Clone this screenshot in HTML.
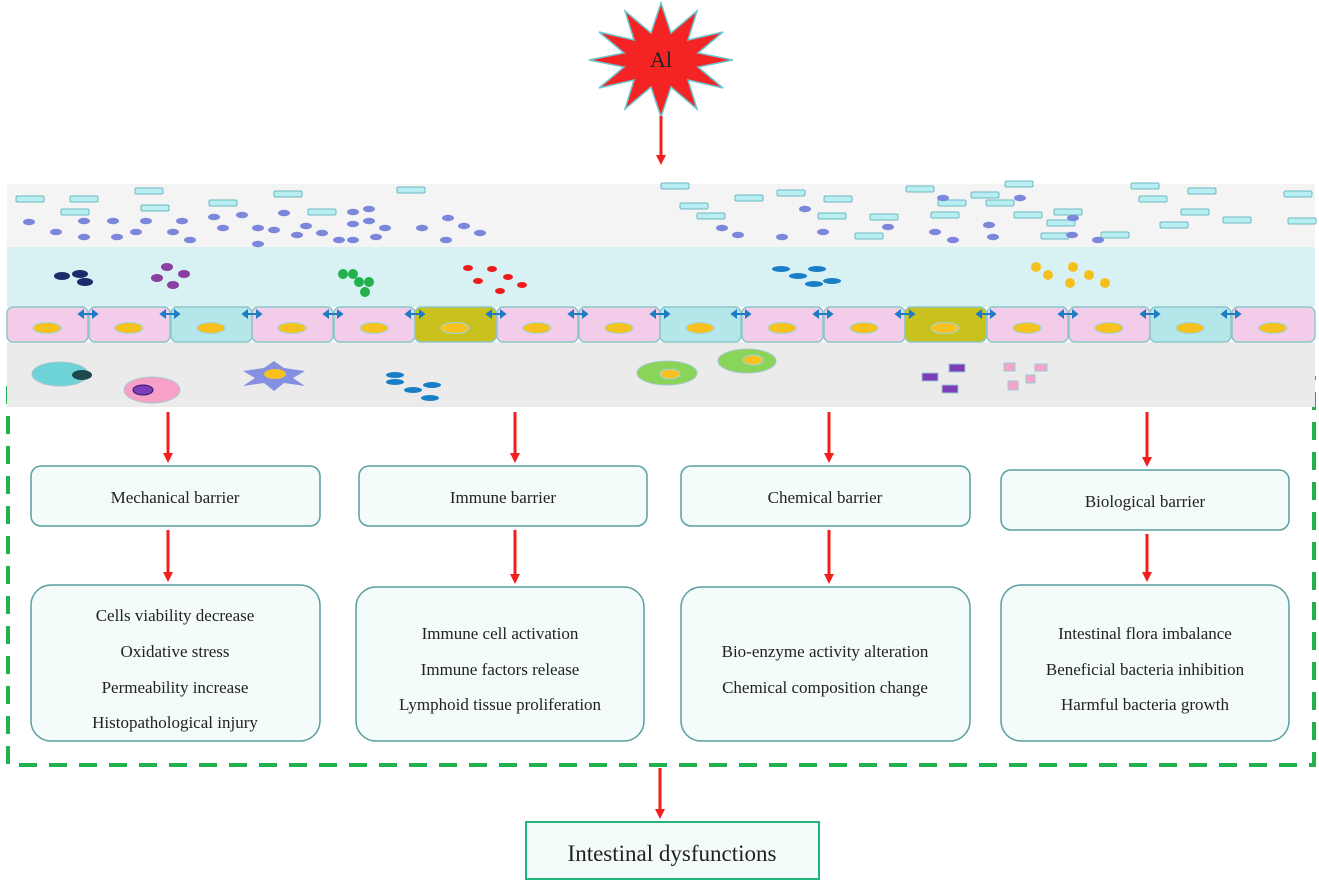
<!DOCTYPE html>
<html><head><meta charset="utf-8"><style>body{margin:0;background:#fff}svg{display:block}text{font-family:"Liberation Serif",serif;fill:#222}</style></head><body>
<svg width="1319" height="886" viewBox="0 0 1319 886" xmlns="http://www.w3.org/2000/svg">
<defs>
<marker id="ah" markerWidth="10" markerHeight="10" refX="5" refY="5" orient="auto" markerUnits="userSpaceOnUse"><path d="M0,0 L10,5 L0,10 z" fill="#f21f1f"/></marker>
<g id="r"><rect x="-14" y="-3" width="28" height="6" rx="1.5" fill="#b8eef2" stroke="#6bb9c0" stroke-width="1"/></g>
<g id="e"><ellipse rx="6" ry="3.2" fill="#7c87dc"/></g>
<g id="n"><ellipse rx="14" ry="5.5" fill="#f7c21f" stroke="#9bd7e8" stroke-width="1"/></g>
<g id="j"><path d="M-9,0 H9 M-9,0 l4,-3 v6 z M9,0 l-4,-3 v6 z" stroke="#1e7cc4" stroke-width="2" fill="#1e7cc4"/></g>
</defs>
<rect x="8" y="378" width="1306" height="387" fill="none" stroke="#22b14c" stroke-width="4" stroke-dasharray="18,12"/>
<rect x="7" y="184" width="1308" height="63" fill="#f4f4f4"/>
<rect x="7" y="247" width="1308" height="60" fill="#d8f2f4"/>
<rect x="7" y="342" width="1308" height="65" fill="#ebebeb"/>
<g>
<use href="#r" x="30" y="199"/><use href="#r" x="84" y="199"/><use href="#r" x="149" y="191"/><use href="#r" x="75" y="212"/><use href="#r" x="155" y="208"/><use href="#r" x="223" y="203"/><use href="#r" x="288" y="194"/><use href="#r" x="322" y="212"/><use href="#r" x="411" y="190"/>
<use href="#r" x="675" y="186"/><use href="#r" x="711" y="216"/><use href="#r" x="694" y="206"/><use href="#r" x="749" y="198"/><use href="#r" x="791" y="193"/><use href="#r" x="838" y="199"/><use href="#r" x="832" y="216"/><use href="#r" x="884" y="217"/><use href="#r" x="869" y="236"/><use href="#r" x="920" y="189"/><use href="#r" x="945" y="215"/><use href="#r" x="1019" y="184"/><use href="#r" x="985" y="195"/><use href="#r" x="1000" y="203"/><use href="#r" x="952" y="203"/><use href="#r" x="1028" y="215"/><use href="#r" x="1055" y="236"/><use href="#r" x="1061" y="223"/><use href="#r" x="1145" y="186"/><use href="#r" x="1153" y="199"/><use href="#r" x="1068" y="212"/><use href="#r" x="1195" y="212"/><use href="#r" x="1115" y="235"/><use href="#r" x="1202" y="191"/><use href="#r" x="1237" y="220"/><use href="#r" x="1298" y="194"/><use href="#r" x="1302" y="221"/><use href="#r" x="1174" y="225"/>
<use href="#e" x="29" y="222"/><use href="#e" x="56" y="232"/><use href="#e" x="84" y="221"/><use href="#e" x="84" y="237"/><use href="#e" x="113" y="221"/><use href="#e" x="117" y="237"/><use href="#e" x="136" y="232"/><use href="#e" x="146" y="221"/><use href="#e" x="173" y="232"/><use href="#e" x="182" y="221"/><use href="#e" x="190" y="240"/><use href="#e" x="214" y="217"/><use href="#e" x="223" y="228"/><use href="#e" x="242" y="215"/><use href="#e" x="258" y="228"/><use href="#e" x="258" y="244"/><use href="#e" x="274" y="230"/><use href="#e" x="284" y="213"/><use href="#e" x="297" y="235"/><use href="#e" x="306" y="226"/><use href="#e" x="322" y="233"/><use href="#e" x="339" y="240"/><use href="#e" x="353" y="212"/><use href="#e" x="353" y="224"/><use href="#e" x="353" y="240"/><use href="#e" x="369" y="209"/><use href="#e" x="369" y="221"/><use href="#e" x="376" y="237"/><use href="#e" x="385" y="228"/><use href="#e" x="422" y="228"/><use href="#e" x="448" y="218"/><use href="#e" x="464" y="226"/><use href="#e" x="446" y="240"/><use href="#e" x="480" y="233"/>
<use href="#e" x="722" y="228"/><use href="#e" x="738" y="235"/><use href="#e" x="805" y="209"/><use href="#e" x="782" y="237"/><use href="#e" x="823" y="232"/><use href="#e" x="888" y="227"/><use href="#e" x="935" y="232"/><use href="#e" x="953" y="240"/><use href="#e" x="943" y="198"/><use href="#e" x="989" y="225"/><use href="#e" x="993" y="237"/><use href="#e" x="1072" y="235"/><use href="#e" x="1073" y="218"/><use href="#e" x="1098" y="240"/><use href="#e" x="1020" y="198"/>
</g>
<g fill="#1d2a6b"><ellipse cx="62" cy="276" rx="8" ry="4"/><ellipse cx="80" cy="274" rx="8" ry="4"/><ellipse cx="85" cy="282" rx="8" ry="4"/></g>
<g fill="#8b3fa0"><ellipse cx="167" cy="267" rx="6" ry="4"/><ellipse cx="157" cy="278" rx="6" ry="4"/><ellipse cx="184" cy="274" rx="6" ry="4"/><ellipse cx="173" cy="285" rx="6" ry="4"/></g>
<g fill="#22b14c"><circle cx="343" cy="274" r="5"/><circle cx="353" cy="274" r="5"/><circle cx="359" cy="282" r="5"/><circle cx="369" cy="282" r="5"/><circle cx="365" cy="292" r="5"/></g>
<g fill="#f01a1a"><ellipse cx="468" cy="268" rx="5" ry="3"/><ellipse cx="492" cy="269" rx="5" ry="3"/><ellipse cx="508" cy="277" rx="5" ry="3"/><ellipse cx="478" cy="281" rx="5" ry="3"/><ellipse cx="500" cy="291" rx="5" ry="3"/><ellipse cx="522" cy="285" rx="5" ry="3"/></g>
<g fill="#1a7ec7"><ellipse cx="781" cy="269" rx="9" ry="3"/><ellipse cx="798" cy="276" rx="9" ry="3"/><ellipse cx="817" cy="269" rx="9" ry="3"/><ellipse cx="814" cy="284" rx="9" ry="3"/><ellipse cx="832" cy="281" rx="9" ry="3"/></g>
<g fill="#f5c01e"><circle cx="1036" cy="267" r="5"/><circle cx="1048" cy="275" r="5"/><circle cx="1073" cy="267" r="5"/><circle cx="1089" cy="275" r="5"/><circle cx="1070" cy="283" r="5"/><circle cx="1105" cy="283" r="5"/></g>
<g stroke="#8cc7c7" stroke-width="1.5">
<rect x="7" y="307" width="81" height="35" rx="6" fill="#f2cce8"/>
<rect x="89" y="307" width="81" height="35" rx="6" fill="#f2cce8"/>
<rect x="171" y="307" width="81" height="35" rx="6" fill="#b4e6ea"/>
<rect x="252" y="307" width="81" height="35" rx="6" fill="#f2cce8"/>
<rect x="334" y="307" width="81" height="35" rx="6" fill="#f2cce8"/>
<rect x="415" y="307" width="81" height="35" rx="6" fill="#c9c21e"/>
<rect x="497" y="307" width="81" height="35" rx="6" fill="#f2cce8"/>
<rect x="579" y="307" width="81" height="35" rx="6" fill="#f2cce8"/>
<rect x="660" y="307" width="81" height="35" rx="6" fill="#b4e6ea"/>
<rect x="742" y="307" width="81" height="35" rx="6" fill="#f2cce8"/>
<rect x="824" y="307" width="81" height="35" rx="6" fill="#f2cce8"/>
<rect x="905" y="307" width="81" height="35" rx="6" fill="#c9c21e"/>
<rect x="987" y="307" width="81" height="35" rx="6" fill="#f2cce8"/>
<rect x="1069" y="307" width="81" height="35" rx="6" fill="#f2cce8"/>
<rect x="1150" y="307" width="81" height="35" rx="6" fill="#b4e6ea"/>
<rect x="1232" y="307" width="83" height="35" rx="6" fill="#f2cce8"/>
</g>
<g>
<use href="#n" x="47" y="328"/><use href="#n" x="129" y="328"/><use href="#n" x="211" y="328"/><use href="#n" x="292" y="328"/><use href="#n" x="374" y="328"/><use href="#n" x="455" y="328"/><use href="#n" x="537" y="328"/><use href="#n" x="619" y="328"/><use href="#n" x="700" y="328"/><use href="#n" x="782" y="328"/><use href="#n" x="864" y="328"/><use href="#n" x="945" y="328"/><use href="#n" x="1027" y="328"/><use href="#n" x="1109" y="328"/><use href="#n" x="1190" y="328"/><use href="#n" x="1273" y="328"/>
<use href="#j" x="88" y="314"/><use href="#j" x="170" y="314"/><use href="#j" x="252" y="314"/><use href="#j" x="333" y="314"/><use href="#j" x="415" y="314"/><use href="#j" x="496" y="314"/><use href="#j" x="578" y="314"/><use href="#j" x="660" y="314"/><use href="#j" x="741" y="314"/><use href="#j" x="823" y="314"/><use href="#j" x="905" y="314"/><use href="#j" x="986" y="314"/><use href="#j" x="1068" y="314"/><use href="#j" x="1150" y="314"/><use href="#j" x="1231" y="314"/>
</g>
<ellipse cx="60" cy="374" rx="28" ry="12" fill="#6dd3d8" stroke="#a8c8cc"/><ellipse cx="82" cy="375" rx="10" ry="5" fill="#1d4a4a"/>
<ellipse cx="152" cy="390" rx="28" ry="13" fill="#f9a0c9" stroke="#a8c8cc"/><ellipse cx="143" cy="390" rx="10" ry="5" fill="#7d3cb8" stroke="#2a1a6a"/>
<polygon points="274,361 284,368 305,371 293,378 305,386 284,383 274,391 264,383 243,386 255,378 243,371 264,368" fill="#8591e0"/><ellipse cx="275" cy="374" rx="11" ry="5" fill="#f7c21f"/>
<g fill="#1a7ec7"><ellipse cx="395" cy="375" rx="9" ry="3"/><ellipse cx="395" cy="382" rx="9" ry="3"/><ellipse cx="413" cy="390" rx="9" ry="3"/><ellipse cx="432" cy="385" rx="9" ry="3"/><ellipse cx="430" cy="398" rx="9" ry="3"/></g>
<ellipse cx="667" cy="373" rx="30" ry="12" fill="#8ad45a" stroke="#a8c8cc"/><ellipse cx="670" cy="374" rx="10" ry="5" fill="#f7c21f" stroke="#9bd7e8"/>
<ellipse cx="747" cy="361" rx="29" ry="12" fill="#8ad45a" stroke="#a8c8cc"/><ellipse cx="753" cy="360" rx="10" ry="5" fill="#f7c21f" stroke="#9bd7e8"/>
<g fill="#7d3cb8" stroke="#9bcbd0"><rect x="949" y="364" width="16" height="8"/><rect x="922" y="373" width="16" height="8"/><rect x="942" y="385" width="16" height="8"/></g>
<g fill="#f7a3cc" stroke="#9bcbd0"><rect x="1004" y="363" width="11" height="8"/><rect x="1035" y="364" width="12" height="7"/><rect x="1026" y="375" width="9" height="8"/><rect x="1008" y="381" width="10" height="9"/></g>
<polygon points="661,3 671,33 697,11 688,40 723,32 698,53 733,60 698,67 723,88 688,80 697,109 671,87 661,117 651,87 625,109 634,80 599,88 624,67 589,60 624,53 599,32 634,40 625,11 651,33" fill="#f52424" stroke="#6cc6d0" stroke-width="1.5"/>
<text x="661" y="67" font-size="22" text-anchor="middle">Al</text>
<g stroke="#f21f1f" stroke-width="3" marker-end="url(#ah)">
<line x1="661" y1="116" x2="661" y2="160"/>
<line x1="168" y1="412" x2="168" y2="458"/><line x1="515" y1="412" x2="515" y2="458"/><line x1="829" y1="412" x2="829" y2="458"/><line x1="1147" y1="412" x2="1147" y2="462"/>
<line x1="168" y1="530" x2="168" y2="577"/><line x1="515" y1="530" x2="515" y2="579"/><line x1="829" y1="530" x2="829" y2="579"/><line x1="1147" y1="534" x2="1147" y2="577"/>
<line x1="660" y1="768" x2="660" y2="814"/>
</g>
<g fill="#f3fbfb" stroke="#5a9ea0" stroke-width="1.5">
<rect x="31" y="466" width="289" height="60" rx="10"/><rect x="359" y="466" width="288" height="60" rx="10"/><rect x="681" y="466" width="289" height="60" rx="10"/><rect x="1001" y="470" width="288" height="60" rx="10"/>
<rect x="31" y="585" width="289" height="156" rx="20"/><rect x="356" y="587" width="288" height="154" rx="20"/><rect x="681" y="587" width="289" height="154" rx="20"/><rect x="1001" y="585" width="288" height="156" rx="20"/>
</g>
<g font-size="17" text-anchor="middle">
<text x="175" y="503">Mechanical barrier</text><text x="503" y="503">Immune barrier</text><text x="825" y="503">Chemical barrier</text><text x="1145" y="507">Biological barrier</text>
<text x="175" y="621">Cells viability decrease</text><text x="175" y="657">Oxidative stress</text><text x="175" y="693">Permeability increase</text><text x="175" y="728">Histopathological injury</text>
<text x="500" y="639">Immune cell activation</text><text x="500" y="675">Immune factors release</text><text x="500" y="710">Lymphoid tissue proliferation</text>
<text x="825" y="657">Bio-enzyme activity alteration</text><text x="825" y="693">Chemical composition change</text>
<text x="1145" y="639">Intestinal flora imbalance</text><text x="1145" y="675">Beneficial bacteria inhibition</text><text x="1145" y="710">Harmful bacteria growth</text>
</g>
<rect x="526" y="822" width="293" height="57" fill="#f3fbfb" stroke="#22b478" stroke-width="2"/>
<text x="672" y="861" font-size="23" text-anchor="middle">Intestinal dysfunctions</text>
</svg>
</body></html>
